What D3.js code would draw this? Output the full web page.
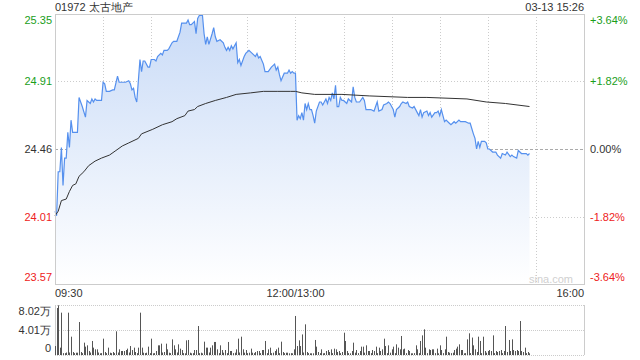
<!DOCTYPE html>
<html>
<head>
<meta charset="utf-8">
<script src="https://cdn.jsdelivr.net/npm/d3@7"></script>
<style>
  body { margin: 0; background: #fff; }
  text { font-family: "Liberation Sans", Arial, sans-serif; }
</style>
</head>
<body>
<div id="container"></div>
<script>
/* DATA */
const title = "01972 太古地产";
const stamp = "03-13 15:26";
const preClose = 24.46;
const priceTicks = [25.35, 24.91, 24.46, 24.01, 23.57];
const pctTicks = ["+3.64%", "+1.82%", "0.00%", "-1.82%", "-3.64%"];
const timeTicks = [0, 150, 330];
const timeLabels = ["09:30", "12:00/13:00", "16:00"];
const volTicks = [80200, 40100, 0];
const volLabels = ["8.02万", "4.01万", "0"];

// trading minute since 09:30 (lunch break removed)
const priceMinutes = [
  0,1,2,3,4,5,6,7,8,9,10,11,14,15,17,19,20,22,23,24,25,26,29,30,31,32,34,36,37,39,40,44,46,47,48,49,50,51,
  53,54,55,56,58,59,60,62,63,64,66,67,68,70,71,73,74,76,78,79,82,83,84,85,87,88,89,90,92,93,94,95,96,98,99,
  100,101,103,105,106,107,108,109,110,111,113,114,115,116,118,119,121,122,123,125,126,127,128,130,131,133,
  135,137,138,139,140,141,143,145,146,147,148,149,150,
  151,152,153,154,155,156,157,158,159,160,161,162,163,165,166,167,169,170,171,172,173,174,175,176,177,178,
  179,180,182,183,185,186,187,188,190,192,193,194,196,197,199,200,201,202,204,205,207,208,209,211,212,213,
  215,216,217,219,220,221,223,224,226,227,228,229,230,232,233,234,235,237,238,239,240,241,242,243,244,246,
  247,249,250,252,253,256,258,259,261,262,263,264,265,266,268,269,270,271,273,275,276,278,279,281,282,284,
  285,286,288,289,291,292,294,295,296
];
const prices = [
  24.05,24.02,24.31,24.31,24.47,24.22,24.40,24.40,24.57,24.47,24.65,24.57,24.57,24.80,24.74,24.67,24.78,24.76,24.79,24.77,24.79,24.78,24.78,24.90,24.89,24.84,24.84,24.85,24.85,24.94,24.90,24.90,24.91,24.89,24.85,24.86,24.80,24.77,
  25.05,24.97,25.04,25.04,25.00,25.00,25.05,25.05,25.04,25.07,25.09,25.08,25.11,25.11,25.12,25.16,25.17,25.17,25.23,25.29,25.29,25.31,25.28,25.28,25.30,25.22,25.32,25.34,25.34,25.22,25.15,25.20,25.15,25.22,25.26,
  25.20,25.17,25.18,25.16,25.13,25.11,25.13,25.11,25.14,25.12,25.16,25.03,25.05,25.01,25.07,25.09,25.11,25.10,25.09,25.07,25.09,25.06,25.07,25.02,24.97,24.97,
  25.00,25.02,24.98,25.00,24.95,24.91,24.96,24.96,24.98,24.96,24.97,24.96,24.96,
  24.65,24.68,24.66,24.70,24.65,24.76,24.72,24.76,24.72,24.72,24.68,24.63,24.71,24.77,24.77,24.75,24.79,24.76,24.80,24.78,24.83,24.79,24.88,24.74,24.74,24.80,
  24.78,24.78,24.76,24.79,24.77,24.87,24.80,24.77,24.77,24.80,24.78,24.72,24.72,24.72,24.71,24.74,24.77,24.71,24.72,24.75,24.76,24.77,24.76,24.72,24.67,24.72,
  24.74,24.76,24.77,24.76,24.77,24.74,24.73,24.74,24.70,24.68,24.72,24.67,24.70,24.71,24.68,24.70,24.67,24.70,24.70,24.71,24.68,24.72,24.68,24.64,24.65,24.63,
  24.62,24.64,24.63,24.65,24.64,24.64,24.63,24.63,24.56,24.53,24.46,24.51,24.47,24.51,24.51,24.50,24.46,24.46,24.44,24.44,24.42,24.40,24.43,24.42,24.44,24.41,
  24.42,24.41,24.40,24.45,24.43,24.43,24.43,24.42,24.43
];

const avgMinutes = [0,2,4,7,9,11,13,15,18,21,25,29,34,38,42,46,52,54,61,67,73,76,81,83,87,89,94,100,107,113,122,130,139,147,150,154,162,179,196,220,232,257,269,281,296];
const avgPrices = [24.02,24.05,24.12,24.13,24.18,24.22,24.23,24.28,24.31,24.35,24.38,24.40,24.42,24.45,24.48,24.50,24.53,24.56,24.59,24.62,24.64,24.66,24.68,24.71,24.72,24.74,24.76,24.78,24.80,24.82,24.83,24.84,24.84,24.84,24.84,24.83,24.82,24.82,24.81,24.80,24.80,24.79,24.77,24.76,24.74];

// volume per minute, in 万 shares, minute 0..296
const volumes = [
  1.44,7.54,7.97,1.18,6.79,0.3,0.3,0.4,6.79,0.4,
  2.94,0.48,0.3,0.37,0.37,5.29,0.48,0.3,1.98,1.34,
  1.55,0.64,0.4,2.25,1.18,0.91,0.91,0.4,0.27,0.3,
  2.62,0.48,0.3,1.18,0.37,0.3,0.48,0.3,3.80,0.4,
  0.91,0.64,0.64,0.64,0.80,1.02,0.4,1.44,0.80,1.18,
  0.48,0.3,1.18,6.79,1.18,0.37,0.3,0.37,1.34,0.3,
  2.62,0.27,0.3,0.64,1.55,1.55,1.82,0.4,0.48,1.82,
  0.91,0.37,0.3,2.51,1.55,0.91,0.4,1.71,1.02,0.80,
  0.3,0.27,2.35,2.41,0.37,0.27,0.3,0.80,0.80,4.65,
  0.3,0.37,0.27,2.14,1.18,1.18,0.4,1.18,1.55,2.09,
  2.09,0.91,0.3,1.55,0.80,0.37,0.80,0.3,2.09,0.64,
  0.64,0.3,0.37,0.91,2.62,0.4,2.94,0.91,0.37,0.80,
  0.3,0.37,1.02,0.37,0.3,0.48,0.64,0.64,0.3,0.80,
  0.80,2.25,0.3,0.91,1.18,0.3,0.37,0.64,0.91,1.18,
  0.3,2.14,0.48,0.3,0.37,0.37,0.27,0.3,0.27,0.91,
  6.26,1.44,2.35,1.44,3.3,0.4,4.92,0.48,0.3,0.27,
  0.27,0.27,2.41,1.34,0.48,0.3,0.91,0.27,0.3,0.64,
  0.80,0.48,0.91,0.3,1.02,0.91,0.48,0.64,0.3,0.48,
  3.58,2.25,0.64,0.3,0.27,0.64,1.98,0.37,0.80,0.3,
  0.64,1.34,1.34,0.37,1.55,0.64,0.64,0.3,0.80,0.64,
  1.34,0.3,1.18,0.64,0.91,2.62,1.44,0.3,1.55,0.37,
  0.91,1.34,0.3,1.71,1.18,0.91,3.05,0.91,1.02,0.3,
  0.80,0.64,0.27,0.27,0.3,1.55,0.91,0.3,2.25,3.15,
  4.12,1.18,0.3,0.91,0.80,0.91,0.91,0.3,1.02,0.27,
  1.55,0.80,0.3,0.91,2.94,0.48,0.37,0.3,0.37,0.80,
  1.02,1.34,1.71,0.80,0.80,0.27,0.3,2.51,3.48,0.3,
  2.8,1.55,0.91,0.48,2.94,2.25,0.3,2.94,0.64,0.37,
  0.64,0.80,0.64,3.15,0.3,0.64,0.48,0.64,0.80,0.3,
  0.64,4.65,0.48,2.41,0.64,2.51,0.80,0.64,0.80,0.64,
  5.45,0.64,0.48,1.18,0.3,0.48,0.27
];

/* CONSTANTS AND GLOBALS */
const width = 640, height = 360;
const plot = { left: 55, right: 584, top: 14, bottom: 284 };
const vol = { top: 305, bottom: 355 };
const green = "#1a9e1a", red = "#ee2222", dark = "#333";
const fontSize = 11;

const colorFor = i => i < 2 ? green : (i === 2 ? dark : red);

// SCALES
const xScale = d3.scaleLinear()
  .domain([0, 330])
  .range([plot.left, plot.right]);

const yScale = d3.scaleLinear()
  .domain([23.57, 25.35])
  .range([plot.bottom, plot.top]);

const vScale = d3.scaleLinear()
  .domain([0, 80200])
  .range([vol.bottom, vol.top]);

// CREATE SVG ELEMENT
const svg = d3.select("#container")
  .append("svg")
  .attr("width", width)
  .attr("height", height);

const defs = svg.append("defs");
const grad = defs.append("linearGradient")
  .attr("id", "fillGrad")
  .attr("gradientUnits", "userSpaceOnUse")
  .attr("x1", 0).attr("x2", 0)
  .attr("y1", plot.top).attr("y2", plot.bottom);
grad.append("stop").attr("offset", "0%").attr("stop-color", "#c9dbf7");
grad.append("stop").attr("offset", "100%").attr("stop-color", "#ffffff");

// GRID
const gridTimes = d3.range(30, 330, 30);
svg.append("g")
  .selectAll("line")
  .data(gridTimes)
  .join("line")
  .attr("x1", d => Math.round(xScale(d)) + 0.5)
  .attr("x2", d => Math.round(xScale(d)) + 0.5)
  .attr("y1", plot.top)
  .attr("y2", plot.bottom)
  .attr("stroke", "#cccccc")
  .attr("stroke-dasharray", "1,2");

svg.append("g")
  .selectAll("line")
  .data(priceTicks.slice(1, 4))
  .join("line")
  .attr("x1", plot.left)
  .attr("x2", plot.right)
  .attr("y1", d => Math.round(yScale(d)) + 0.5)
  .attr("y2", d => Math.round(yScale(d)) + 0.5)
  .attr("stroke", d => d === preClose ? "#aaaaaa" : "#cccccc")
  .attr("stroke-dasharray", d => d === preClose ? "3,2" : "1,2");

// AREA + LINES
const pts = priceMinutes.map((m, i) => ({ m: m, p: prices[i] }));

const areaGen = d3.area()
  .x(d => xScale(d.m))
  .y0(plot.bottom)
  .y1(d => yScale(d.p));

svg.append("path")
  .datum(pts)
  .attr("d", areaGen)
  .attr("fill", "url(#fillGrad)");

const lineGen = d3.line()
  .x(d => xScale(d.m))
  .y(d => yScale(d.p));

svg.append("path")
  .datum(pts)
  .attr("d", lineGen)
  .attr("fill", "none")
  .attr("stroke", "#5590ee")
  .attr("stroke-width", 1.2);

const avgPts = avgMinutes.map((m, i) => ({ m: m, p: avgPrices[i] }));
svg.append("path")
  .datum(avgPts)
  .attr("d", lineGen)
  .attr("fill", "none")
  .attr("stroke", "#333333")
  .attr("stroke-width", 1);

// FRAME
svg.append("rect")
  .attr("x", plot.left + 0.5)
  .attr("y", plot.top + 0.5)
  .attr("width", plot.right - plot.left)
  .attr("height", plot.bottom - plot.top)
  .attr("fill", "none")
  .attr("stroke", "#cccccc");

// AXIS LABELS
const leftLab = svg.append("g")
  .attr("font-size", fontSize)
  .attr("text-anchor", "end");
leftLab.selectAll("text")
  .data(priceTicks)
  .join("text")
  .attr("x", plot.left - 3)
  .attr("y", (d, i) => yScale(d) + (i === 0 ? 10 : i === 4 ? -3 : 4))
  .attr("fill", (d, i) => colorFor(i))
  .text(d => d.toFixed(2));

const rightLab = svg.append("g")
  .attr("font-size", fontSize);
rightLab.selectAll("text")
  .data(pctTicks)
  .join("text")
  .attr("x", plot.right + 6)
  .attr("y", (d, i) => yScale(priceTicks[i]) + (i === 0 ? 10 : i === 4 ? -3 : 4))
  .attr("fill", (d, i) => colorFor(i))
  .text(d => d);

svg.append("g")
  .attr("font-size", fontSize)
  .attr("fill", dark)
  .selectAll("text")
  .data(timeTicks)
  .join("text")
  .attr("x", d => xScale(d))
  .attr("y", 297)
  .attr("text-anchor", (d, i) => i === 0 ? "start" : i === 1 ? "middle" : "end")
  .text((d, i) => timeLabels[i]);

svg.append("text")
  .attr("x", plot.left)
  .attr("y", 11)
  .attr("font-size", fontSize)
  .attr("fill", dark)
  .text(title);

svg.append("text")
  .attr("x", plot.right)
  .attr("y", 11)
  .attr("font-size", fontSize)
  .attr("fill", dark)
  .attr("text-anchor", "end")
  .text(stamp);

svg.append("text")
  .attr("x", 573)
  .attr("y", 283)
  .attr("font-size", fontSize)
  .attr("fill", "#d0d0d0")
  .attr("text-anchor", "end")
  .text("sina.com");

// VOLUME PANEL
svg.append("g")
  .selectAll("line")
  .data(volTicks)
  .join("line")
  .attr("x1", plot.left)
  .attr("x2", plot.right)
  .attr("y1", d => Math.round(vScale(d)) + 0.5)
  .attr("y2", d => Math.round(vScale(d)) + 0.5)
  .attr("stroke", "#cccccc")
  .attr("stroke-dasharray", "1,1");

[plot.left, plot.right].forEach(x => {
  svg.append("line")
    .attr("x1", x + 0.5).attr("x2", x + 0.5)
    .attr("y1", vol.top).attr("y2", vol.bottom)
    .attr("stroke", "#cccccc");
});

svg.append("g")
  .selectAll("rect")
  .data(volumes)
  .join("rect")
  .attr("x", (d, i) => Math.round(xScale(i)))
  .attr("width", 1)
  .attr("y", d => vScale(d * 10000))
  .attr("height", d => vol.bottom - vScale(d * 10000))
  .attr("fill", "#555555");

svg.append("g")
  .attr("font-size", fontSize)
  .attr("fill", dark)
  .attr("text-anchor", "end")
  .selectAll("text")
  .data(volTicks)
  .join("text")
  .attr("x", plot.left - 4)
  .attr("y", (d, i) => vScale(d) + (i === 0 ? 10 : i === 1 ? 4 : -3))
  .text((d, i) => volLabels[i]);
</script>
</body>
</html>
